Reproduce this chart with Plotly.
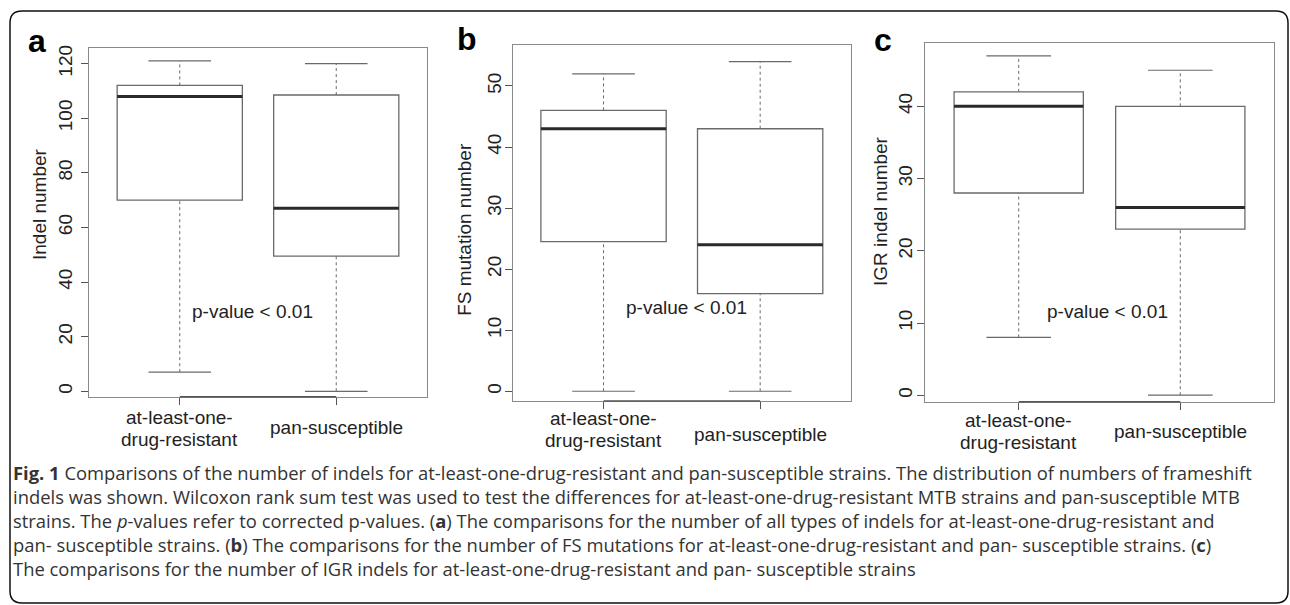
import plotly.graph_objects as go

W, H = 1290, 605

# ---------------- data ----------------
categories = ["at-least-one-drug-resistant", "pan-susceptible"]
xtick_lines = [["at-least-one-", "drug-resistant"], ["pan-susceptible"]]
positions = [1, 2]

indel_lower = [7, 0]
indel_q1 = [70, 49.5]
indel_median = [108, 67]
indel_q3 = [112, 108.5]
indel_upper = [121, 120]

fs_lower = [0, 0]
fs_q1 = [24.5, 16]
fs_median = [43, 24]
fs_q3 = [46, 43]
fs_upper = [52, 54]

igr_lower = [8, 0]
igr_q1 = [28, 23]
igr_median = [40, 26]
igr_q3 = [42, 40]
igr_upper = [47, 45]

y_titles = ["Indel number", "FS mutation number", "IGR indel number"]
panel_letters = ["a", "b", "c"]
pvalue_text = "p-value < 0.01"
yticks_a = [0, 20, 40, 60, 80, 100, 120]
yticks_b = [0, 10, 20, 30, 40, 50]
yticks_c = [0, 10, 20, 30, 40]
pvalue_pos = [(1.465, 29.2), (1.527, 13.7), (1.552, 11.6)]

caption_lines = [
    "<b>Fig. 1</b> Comparisons of the number of indels for at-least-one-drug-resistant and pan-susceptible strains. The distribution of numbers of frameshift",
    "indels was shown. Wilcoxon rank sum test was used to test the differences for at-least-one-drug-resistant MTB strains and pan-susceptible MTB",
    "strains. The <i>p</i>-values refer to corrected p-values. (<b>a</b>) The comparisons for the number of all types of indels for at-least-one-drug-resistant and",
    "pan- susceptible strains. (<b>b</b>) The comparisons for the number of FS mutations for at-least-one-drug-resistant and pan- susceptible strains. (<b>c</b>)",
    "The comparisons for the number of IGR indels for at-least-one-drug-resistant and pan- susceptible strains",
]

panels_data = [
    (indel_lower, indel_q1, indel_median, indel_q3, indel_upper, yticks_a),
    (fs_lower, fs_q1, fs_median, fs_q3, fs_upper, yticks_b),
    (igr_lower, igr_q1, igr_median, igr_q3, igr_upper, yticks_c),
]

# ---------------- layout (pixels) ----------------
panel_layout = [
    dict(xpx=(89, 427), ypx=(45, 395.7), yrange=(-2.0, 125.8), title_px=(40, 202),
         letter_px=(37, 38), labels_y=(417, 439, 427), standoff=1),
    dict(xpx=(512.7, 851), ypx=(42.3, 400), yrange=(-1.6, 56.7), title_px=(465, 227),
         letter_px=(467, 36), labels_y=(418, 440, 434), standoff=-4),
    dict(xpx=(925, 1274), ypx=(40, 400.7), yrange=(-0.9, 48.8), title_px=(881, 209),
         letter_px=(883, 37), labels_y=(420, 442, 431), standoff=-3),
]

def px_x(p):
    return p / W

def px_y(p):
    return 1 - p / H

FONT = "Liberation Sans, Arial, sans-serif"
TXT = "#222222"
FRAME = "#8a8a8a"
BOXLINE = "#6a6a6a"
MEDIAN = "#2a2a2a"
WHISK = "#6a6a6a"
BOX_W = 0.8
CAP_W = 0.4
FS = 19

fig = go.Figure()
annotations = []
shapes = []

for i, ((lo, q1, med, q3, up, yticks), pl) in enumerate(zip(panels_data, panel_layout)):
    xa = "x" if i == 0 else f"x{i+1}"
    ya = "y" if i == 0 else f"y{i+1}"
    xkey = "xaxis" if i == 0 else f"xaxis{i+1}"
    ykey = "yaxis" if i == 0 else f"yaxis{i+1}"

    # whiskers (dotted)
    wx, wy = [], []
    for p, a, b, c, d in zip(positions, lo, q1, q3, up):
        wx += [p, p, None, p, p, None]
        wy += [a, b, None, c, d, None]
    fig.add_trace(go.Scatter(x=wx, y=wy, mode="lines", xaxis=xa, yaxis=ya,
                             line=dict(color=WHISK, width=1, dash="dot"),
                             showlegend=False, hoverinfo="skip"))
    # caps
    cx, cy = [], []
    for p, a, d in zip(positions, lo, up):
        cx += [p - CAP_W / 2, p + CAP_W / 2, None, p - CAP_W / 2, p + CAP_W / 2, None]
        cy += [a, a, None, d, d, None]
    fig.add_trace(go.Scatter(x=cx, y=cy, mode="lines", xaxis=xa, yaxis=ya,
                             line=dict(color=WHISK, width=1.2),
                             showlegend=False, hoverinfo="skip"))
    # boxes
    fig.add_trace(go.Box(x=positions, q1=q1, median=med, q3=q3,
                         lowerfence=q1, upperfence=q3, width=BOX_W,
                         whiskerwidth=0, fillcolor="white",
                         line=dict(color=BOXLINE, width=1.3),
                         xaxis=xa, yaxis=ya, showlegend=False,
                         hoverinfo="skip", boxpoints=False))
    # thick medians
    mx, my = [], []
    for p, m in zip(positions, med):
        mx += [p - BOX_W / 2, p + BOX_W / 2, None]
        my += [m, m, None]
    fig.add_trace(go.Scatter(x=mx, y=my, mode="lines", xaxis=xa, yaxis=ya,
                             line=dict(color=MEDIAN, width=3),
                             showlegend=False, hoverinfo="skip"))

    fig.layout[xkey] = dict(
        domain=[px_x(pl["xpx"][0]), px_x(pl["xpx"][1])],
        range=[0.42, 2.58], anchor=ya, showgrid=False, zeroline=False,
        showline=True, mirror=True, linecolor=FRAME, linewidth=1.2,
        tickmode="array", tickvals=positions, ticktext=["", ""],
        ticks="outside", ticklen=7, tickcolor="#555", tickwidth=1.2,
        fixedrange=True,
    )
    fig.layout[ykey] = dict(
        domain=[px_y(pl["ypx"][1]), px_y(pl["ypx"][0])],
        range=list(pl["yrange"]), anchor=xa, showgrid=False, zeroline=False,
        showline=True, mirror=True, linecolor=FRAME, linewidth=1.2,
        tickmode="array", tickvals=yticks, ticktext=[str(t) for t in yticks],
        ticks="outside", ticklen=7, tickcolor="#555", tickwidth=1.2,
        tickangle=-90, ticklabelstandoff=pl["standoff"],
        tickfont=dict(family=FONT, size=FS, color=TXT),
        fixedrange=True,
    )
    # darker x axis line between first and last tick (R style)
    shapes.append(dict(type="line", xref=xa, yref=f"{ya} domain",
                       x0=positions[0], x1=positions[-1], y0=0, y1=0,
                       line=dict(color="#555", width=1.5)))

    # y title
    annotations.append(dict(text=y_titles[i], textangle=-90, showarrow=False,
                            xref="paper", yref="paper",
                            x=px_x(pl["title_px"][0]), y=px_y(pl["title_px"][1]),
                            xanchor="center", yanchor="middle",
                            font=dict(family=FONT, size=FS, color=TXT)))
    # panel letter
    annotations.append(dict(text=f"<b>{panel_letters[i]}</b>", showarrow=False,
                            xref="paper", yref="paper",
                            x=px_x(pl["letter_px"][0]), y=px_y(pl["letter_px"][1]),
                            xanchor="center", yanchor="middle",
                            font=dict(family=FONT, size=32, color="#000")))
    # p-value
    annotations.append(dict(text=pvalue_text, showarrow=False, xref=xa, yref=ya,
                            x=pvalue_pos[i][0], y=pvalue_pos[i][1],
                            xanchor="center", yanchor="middle",
                            font=dict(family=FONT, size=FS, color=TXT)))
    # x tick labels
    ly = pl["labels_y"]
    for p, lines in zip(positions, xtick_lines):
        if len(lines) == 2:
            ys = [ly[0], ly[1]]
        else:
            ys = [ly[2]]
        for t, yy in zip(lines, ys):
            annotations.append(dict(text=t, showarrow=False, xref=xa, yref="paper",
                                    x=p, y=px_y(yy), xanchor="center", yanchor="middle",
                                    font=dict(family=FONT, size=FS, color=TXT)))

# caption: one multi-line text block
annotations.append(dict(text="<br>".join(caption_lines), showarrow=False,
                        xref="paper", yref="paper", align="left",
                        x=px_x(12), y=px_y(520.5), xanchor="left", yanchor="middle",
                        borderpad=0,
                        font=dict(family="Open Sans, Noto Sans, sans-serif",
                                  size=18.4, color="#333")))

# outer rounded border
L, T, R, B, r = 10, 8, 1288, 603, 12
def P(x, y):
    return f"{px_x(x):.5f},{px_y(y):.5f}"
path = (f"M {P(L, T + r)} Q {P(L, T)} {P(L + r, T)} L {P(R - r, T)} "
        f"Q {P(R, T)} {P(R, T + r)} L {P(R, B - r)} Q {P(R, B)} {P(R - r, B)} "
        f"L {P(L + r, B)} Q {P(L, B)} {P(L, B - r)} Z")
shapes.append(dict(type="path", xref="paper", yref="paper", path=path,
                   line=dict(color="#111", width=1.5), layer="below"))

fig.update_layout(
    width=W, height=H, autosize=False,
    margin=dict(l=0, r=0, t=0, b=0, pad=0),
    paper_bgcolor="white", plot_bgcolor="white",
    annotations=annotations, shapes=shapes, showlegend=False,
)

fig.write_html("out.html", config={"displayModeBar": False},
               post_script="document.body.style.margin='0';document.body.style.overflow='hidden';")
